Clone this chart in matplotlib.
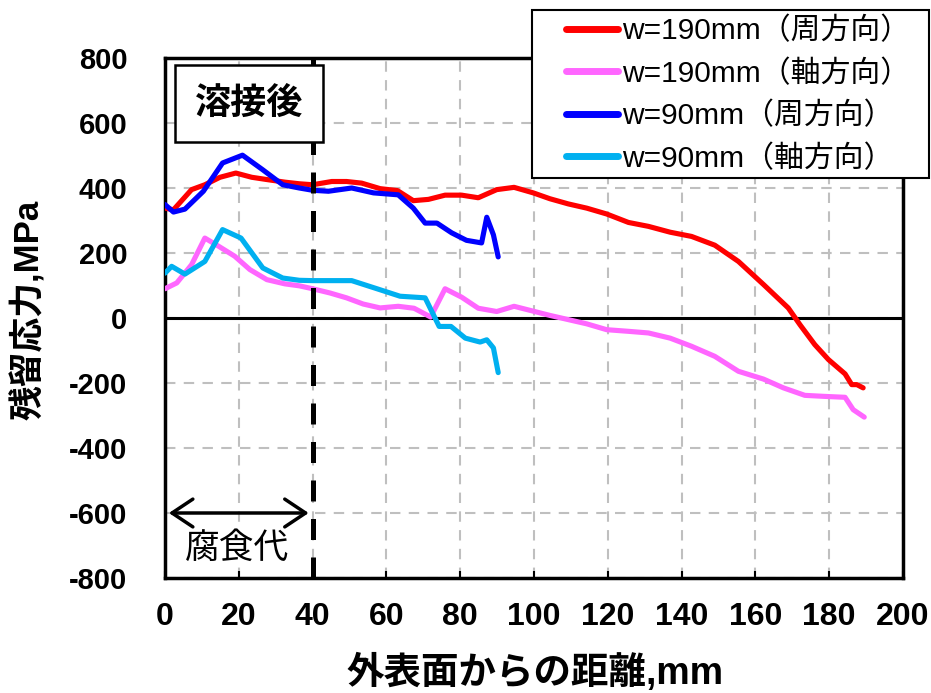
import matplotlib
matplotlib.use("Agg")
import matplotlib.pyplot as plt
from matplotlib.patches import FancyArrowPatch, Rectangle

plt.rcParams['font.family'] = ['Liberation Sans', 'Noto Sans CJK JP', 'DejaVu Sans']
plt.rcParams['axes.unicode_minus'] = False

# ---- data ----
x_red = [0, 2.3, 7.2, 10.8, 14.9, 19.2, 23.5, 27.6, 32.5, 36.4, 40, 45.2, 49.2, 53.3, 58.3, 63,
         67.3, 71.4, 75.9, 80.4, 84.9, 89.9, 94.6, 99.8, 104.3, 109.3, 114.3, 119.7, 125.6, 131,
         136.9, 142.7, 149, 155.4, 162.2, 168.9, 172.1, 176.1, 179.8, 184.3, 186.1, 187.5, 189.2]
y_red = [338, 333, 395, 410, 433, 446, 433, 426, 418, 413, 410, 420, 420, 415, 398, 392,
         361, 365, 378, 378, 370, 395, 402, 385, 367, 351, 338, 320, 294, 282,
         264, 251, 224, 174, 103, 31, -21, -82, -128, -172, -205, -205, -215]

x_pink = [0, 3.2, 7.2, 10.8, 14.5, 18.9, 23, 27.6, 32.5, 36.4, 40, 44.7, 49.2, 53.7, 58.3, 63.2,
          67.5, 72, 75.9, 80.4, 84.9, 89.9, 94.6, 99.8, 104.3, 109.3, 114.3, 119.7, 125.6, 131,
          136.9, 142.7, 149, 155.4, 162.2, 167.6, 173.4, 178.4, 184.3, 186.5, 189.5]
y_pink = [90, 108, 164, 246, 221, 190, 149, 118, 105, 99, 90, 77, 62, 43, 31, 36,
          30, 3, 90, 64, 30, 20, 36, 21, 8, -5, -18, -36, -41, -46,
          -62, -87, -118, -164, -188, -215, -238, -241, -244, -282, -305]

x_blue = [0, 2.3, 5.4, 10.4, 15.6, 21, 26.5, 31.9, 36.4, 40, 44.3, 50.6, 56.5, 63.2, 67.3,
          70.5, 73.7, 77.7, 81.7, 85.8, 87.2, 89, 90.3]
y_blue = [349, 326, 335, 390, 477, 501, 456, 410, 400, 393, 390, 400, 385, 379, 338,
          292, 292, 262, 239, 231, 310, 256, 188]

x_cyan = [0, 1.8, 5.4, 10.8, 15.6, 20.6, 26.5, 31.9, 36.4, 40, 50.6, 56.9, 63.7, 70.5, 74.3,
          77.5, 81.4, 85.4, 87.2, 89, 90.3]
y_cyan = [138, 159, 135, 174, 272, 246, 154, 123, 116, 115, 115, 92, 67, 62, -26,
          -26, -62, -74, -67, -92, -168]

labels = ['w=190mm（周方向）', 'w=190mm（軸方向）', 'w=90mm（周方向）', 'w=90mm（軸方向）']
colors = ['#FF0000', '#FF66FF', '#0000FF', '#00B0F0']

x_ticks = [0, 20, 40, 60, 80, 100, 120, 140, 160, 180, 200]
y_ticks = [-800, -600, -400, -200, 0, 200, 400, 600, 800]
y_tick_labels = ['-800', '-600', '-400', '-200', '0', '200', '400', '600', '800']

corrosion_x = 40
arrow_y = -600

# ---- figure ----
W, H = 931, 693
fig = plt.figure(figsize=(9.31, 6.93), dpi=100)
ax = fig.add_axes([165/W, 1-578/H, (903-165)/W, (578-58)/H])

ax.set_xlim(0, 200)
ax.set_ylim(-800, 800)
ax.set_xticks(x_ticks)
ax.set_yticks(y_ticks)
ax.set_yticklabels(y_tick_labels)
ax.tick_params(axis='both', direction='in', length=5, width=1.5, color='black')
ax.tick_params(axis='y', pad=27, length=0)
ax.tick_params(axis='x', pad=17)
for lab in ax.get_yticklabels():
    lab.set_fontsize(21); lab.set_fontweight('bold')
for lab in ax.get_xticklabels():
    lab.set_fontsize(23); lab.set_fontweight('bold')
    lab.set_family(['Liberation Sans Narrow', 'Liberation Sans'])

ax.grid(True, color='#BFBFBF', linestyle=(0, (5, 4)), linewidth=1.5)
ax.set_axisbelow(True)
for s in ax.spines.values():
    s.set_linewidth(2.5)
    s.set_color('black')

ax.axhline(0, color='black', lw=2.2, zorder=2)

series = [(x_red, y_red), (x_pink, y_pink), (x_blue, y_blue), (x_cyan, y_cyan)]
handles = []
for (xs, ys), c, lb in zip(series, colors, labels):
    h, = ax.plot(xs, ys, color=c, lw=3.7, label=lb, solid_capstyle='round',
                 solid_joinstyle='round', zorder=3)
    handles.append(h)

ax.axvline(corrosion_x, color='black', lw=3.6, linestyle=(0, (4.2, 3.5)), zorder=4)

arr = FancyArrowPatch((0.3, arrow_y), (corrosion_x - 0.3, arrow_y),
                      arrowstyle='<->,head_length=0.75,head_width=0.5',
                      mutation_scale=20, lw=2.5, color='black', zorder=5)
ax.add_patch(arr)
ax.text(19.5, -708, '腐食代', fontsize=25, ha='center', va='center',
        family=['Noto Sans CJK JP'],
        bbox=dict(facecolor='white', edgecolor='none', pad=1), zorder=5)

ax.text(22.8, 661, '溶接後', fontsize=26, fontweight='bold', ha='center', va='center',
        family=['Noto Sans CJK JP'], zorder=6,
        bbox=dict(boxstyle='square,pad=0.55', facecolor='white', edgecolor='black', lw=1.8))

fig.text(28/W, 1-310/H, '残留応力,MPa', rotation=90, ha='center', va='center',
         fontsize=25, fontweight='bold', family=['Liberation Sans', 'Noto Sans CJK JP'])
fig.text(535/W, 1-673/H, '外表面からの距離,mm', ha='center', va='center',
         fontsize=27, fontweight='bold', family=['Liberation Sans', 'Noto Sans CJK JP'])

# legend frame drawn separately (wide horizontal padding as in the reference)
frame = Rectangle((532/W, 1-178/H), (929-532)/W, (178-10)/H, transform=fig.transFigure,
                  facecolor='white', edgecolor='black', lw=1.5, zorder=5)
fig.patches.append(frame)

leg = fig.legend(handles=handles, labels=labels, loc='upper left',
                 bbox_to_anchor=(566/W, 1-17/H), bbox_transform=fig.transFigure,
                 frameon=False, handlelength=1.75, handletextpad=0.13,
                 labelspacing=0.47, borderaxespad=0, borderpad=0,
                 prop={'family': ['Liberation Sans', 'Noto Sans CJK JP'], 'size': 21.5})
leg.set_zorder(6)
for lh in leg.get_lines():
    lh.set_linewidth(5)

fig.savefig('out.png', dpi=100)
